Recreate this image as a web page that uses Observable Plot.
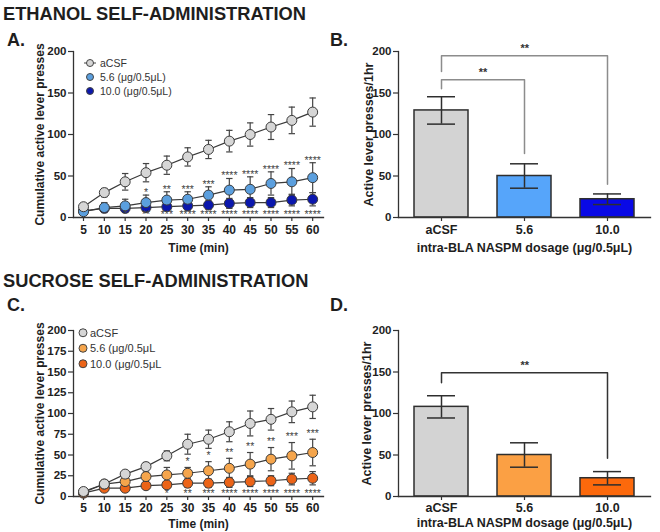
<!DOCTYPE html>
<html>
<head>
<meta charset="utf-8">
<script src="https://cdn.jsdelivr.net/npm/d3@7"></script>
<script src="https://cdn.jsdelivr.net/npm/@observablehq/plot@0.6"></script>
<style>
  body { margin: 0; background: #fff; }
  #fig { position: relative; width: 660px; height: 532px; overflow: hidden;
         font-family: "Liberation Sans", Arial, sans-serif; color: #1e1e1e; }
  .head { position: absolute; left: 3px; font-weight: bold; font-size: 18.3px; line-height: 18px; white-space: nowrap; }
  .tag { position: absolute; font-weight: bold; font-size: 18px; line-height: 18px; }
  .panel { position: absolute; }
  .legend { position: absolute; }
</style>
</head>
<body>
<div id="fig">
  <div class="head" style="top:5px">ETHANOL SELF-ADMINISTRATION</div>
  <div class="head" style="top:272px">SUCROSE SELF-ADMINISTRATION</div>
  <div class="tag" style="left:7px;top:31px">A.</div>
  <div class="tag" style="left:330px;top:31px">B.</div>
  <div class="tag" style="left:7px;top:296px">C.</div>
  <div class="tag" style="left:330px;top:296px">D.</div>
  <div class="panel" id="pA" style="left:0;top:30px"></div>
  <div class="panel" id="pB" style="left:330px;top:30px"></div>
  <div class="panel" id="pC" style="left:0;top:290px"></div>
  <div class="panel" id="pD" style="left:330px;top:290px"></div>
</div>
<script>
// ---- session time points and treatment groups ----
const times = [5, 10, 15, 20, 25, 30, 35, 40, 45, 50, 55, 60];
const doses = ["aCSF", "5.6", "10.0"];
const ethanolLegend = ["aCSF", "5.6 (\u03bcg/0.5\u03bcL)", "10.0 (\u03bcg/0.5\u03bcL)"];
const sucroseLegend = ["aCSF", "5.6 (\u03bcg/0.5\u03bcL", "10.0 (\u03bcg/0.5\u03bcL"];

// ---- ethanol: cumulative active lever presses (mean, SEM) ----
const ethAcsfMean = [13, 30, 43, 54, 63, 73, 82, 92, 100, 109, 117, 127];
const ethAcsfSem  = [2, 5, 10, 11, 11, 11, 11, 13, 14, 15, 16, 17];
const eth56Mean   = [7, 12, 14, 18, 21, 22, 27, 33, 34, 41, 43, 48];
const eth56Sem    = [2, 6, 8, 9, 10, 9, 10, 14, 15, 14, 16, 18];
const eth100Mean  = [8, 11, 11, 12, 13, 14, 15, 17, 18, 18, 21, 22];
const eth100Sem   = [2, 3, 4, 4, 4, 5, 5, 6, 6, 6, 7, 8];
const ethStars56  = ["", "", "", "*", "**", "***", "***", "****", "****", "****", "****", "****"];
const ethStars100 = ["", "", "*", "**", "***", "****", "****", "****", "****", "****", "****", "****"];

// ---- ethanol: total presses in 1 hr ----
const ethTotalMean = [129, 50, 22];
const ethTotalSem  = [16.5, 14.7, 6.4];
const ethBrackets = [
  {from: "aCSF", to: "10.0", top: 195, startY: 176, endY: 40, label: "**"},
  {from: "aCSF", to: "5.6", top: 166, startY: 155, endY: 77, label: "**"}
];

// ---- sucrose: cumulative active lever presses (mean, SEM) ----
const sucAcsfMean = [6, 15, 27, 36, 49, 63, 69, 78, 88, 93, 102, 108];
const sucAcsfSem  = [2, 2, 3, 5, 6, 12, 11, 12, 15, 13, 13, 14];
const suc56Mean   = [5, 15, 18, 24, 26, 28, 31, 34, 39, 45, 49, 53];
const suc56Sem    = [2, 2, 4, 5, 9, 7, 11, 12, 14, 14, 16, 16];
const suc100Mean  = [4, 10, 10, 13, 14, 16, 16, 17, 18, 19, 21, 22];
const suc100Sem   = [2, 2, 3, 3, 4, 5, 5, 6, 6, 6, 7, 8];
const sucStars56  = ["", "", "", "", "", "*", "*", "**", "**", "**", "***", "***"];
const sucStars100 = ["", "", "", "", "*", "**", "***", "****", "****", "****", "****", "****"];

// ---- sucrose: total presses in 1 hr ----
const sucTotalMean = [108, 50, 22];
const sucTotalSem  = [13.4, 14.7, 8];
const sucBrackets = [
  {from: "aCSF", to: "10.0", top: 149, startY: 137, endY: 46, label: "**"}
];

// ---- colours ----
const ethDotColors = ["#d6d6d6", "#5b9fde", "#0b17ad"];
const ethBarColors = ["#d3d3d3", "#56a5fa", "#0909e6"];
const sucDotColors = ["#d6d6d6", "#f5a54c", "#ec6418"];
const sucBarColors = ["#d3d3d3", "#fba044", "#fc690c"];

const INK = "#333";
const FONT = "'Liberation Sans', Arial, sans-serif";

// horizontal cap drawn as a dot symbol, so its width is in pixels
const capSymbol = {
  draw(context, size) {
    const h = Math.sqrt(size / Math.PI);
    context.moveTo(-h, 0);
    context.lineTo(h, 0);
  }
};

function cumulativePanel(cfg) {
  const rows = [];
  cfg.means.forEach((means, s) =>
    means.forEach((m, i) =>
      rows.push({dose: doses[s], s, t: times[i], m, se: cfg.sems[s][i], fill: cfg.colors[s]})));
  // highest dose first so the aCSF symbols end up on top
  rows.sort((a, b) => b.s - a.s);
  const highStars = times.map((t, i) => ({t, text: cfg.stars56[i], y: cfg.means[1][i] + cfg.sems[1][i]}))
    .filter(d => d.text);
  const lowStars = times.map((t, i) => ({t, text: cfg.stars100[i]})).filter(d => d.text);

  return Plot.plot({
    width: 330, height: cfg.height,
    marginLeft: 73, marginRight: 7, marginTop: cfg.marginTop, marginBottom: cfg.marginBottom,
    style: {fontFamily: FONT, fontWeight: "bold", fontSize: "12px", color: "#1e1e1e", background: "transparent"},
    x: {domain: [2.6, 62.6]},
    y: {domain: [0, 200]},
    color: {type: "identity"},
    marks: [
      Plot.frame({anchor: "left", stroke: INK, strokeWidth: 1.3}),
      Plot.frame({anchor: "bottom", stroke: INK, strokeWidth: 1.3}),
      Plot.axisX({ticks: times, tickSize: 4, tickPadding: cfg.xPad, label: null, stroke: INK, strokeWidth: 1.2, fontSize: 12}),
      Plot.axisY({ticks: cfg.yTicks, tickSize: 5, tickPadding: 2, label: null, stroke: INK, strokeWidth: 1.2, fontSize: 11.5}),
      Plot.ruleX(rows, {x: "t", y1: d => d.m - d.se, y2: d => d.m + d.se, stroke: "#444", strokeWidth: 1.2}),
      Plot.dot(rows, {x: "t", y: d => d.m + d.se, symbol: capSymbol, r: 3.2, stroke: "#444", strokeWidth: 1.2, fill: "none"}),
      Plot.dot(rows, {x: "t", y: d => d.m - d.se, symbol: capSymbol, r: 3.2, stroke: "#444", strokeWidth: 1.2, fill: "none"}),
      Plot.line(rows, {x: "t", y: "m", z: "dose", stroke: "#3a3a3a", strokeWidth: 1.2}),
      Plot.dot(rows, {x: "t", y: "m", r: 5, fill: "fill", stroke: "#3c3c3c", strokeWidth: 1}),
      Plot.text(highStars, {x: "t", y: "y", text: "text", dy: cfg.starDy, fontSize: 10.5, fontWeight: "normal", fill: "#444"}),
      Plot.text(lowStars, {x: "t", y: () => 0, text: "text", dy: -2.5, fontSize: 10.5, fontWeight: "normal", fill: "#444"}),
      Plot.text(["Cumulative active lever presses"], {text: d => d, frameAnchor: "left", textAnchor: "middle", lineAnchor: "middle", rotate: -90, dx: -33, fontSize: 12}),
      Plot.text(["Time (min)"], {text: d => d, frameAnchor: "bottom", textAnchor: "middle", lineAnchor: "middle", dy: cfg.titleDy, fontSize: 12})
    ]
  });
}

function totalPanel(cfg) {
  const rows = doses.map((dose, i) => ({dose, m: cfg.mean[i], se: cfg.sem[i], fill: cfg.colors[i]}));
  const paddingInner = 0.35, paddingOuter = 0.19, marginLeft = 68, marginRight = 10, width = 330;
  const step = (width - marginLeft - marginRight) / (doses.length - paddingInner + 2 * paddingOuter);
  const bracketPaths = cfg.brackets.flatMap((b, k) => [
    {k, dose: b.from, y: b.startY}, {k, dose: b.from, y: b.top},
    {k, dose: b.to, y: b.top}, {k, dose: b.to, y: b.endY}
  ]);
  const bracketLabels = cfg.brackets.map(b => ({
    dose: b.from, y: b.top, label: b.label,
    shift: (doses.indexOf(b.to) - doses.indexOf(b.from)) * step / 2
  }));

  return Plot.plot({
    width, height: cfg.height,
    marginLeft, marginRight, marginTop: cfg.marginTop, marginBottom: cfg.marginBottom,
    style: {fontFamily: FONT, fontWeight: "bold", fontSize: "12.5px", color: "#1e1e1e", background: "transparent"},
    x: {domain: doses, paddingInner, paddingOuter, align: 0.5},
    y: {domain: [0, 200]},
    color: {type: "identity"},
    marks: [
      Plot.barY(rows, {x: "dose", y: "m", fill: "fill", stroke: "#2e2e2e", strokeWidth: 1.5}),
      Plot.ruleX(rows, {x: "dose", y1: d => d.m - d.se, y2: d => d.m + d.se, stroke: "#2e2e2e", strokeWidth: 1.5}),
      Plot.tickY(rows, {x: "dose", y: d => d.m + d.se, insetLeft: 13, insetRight: 13, stroke: "#2e2e2e", strokeWidth: 1.5}),
      Plot.tickY(rows, {x: "dose", y: d => d.m - d.se, insetLeft: 13, insetRight: 13, stroke: "#2e2e2e", strokeWidth: 1.5}),
      ...cfg.brackets.map((b, k) =>
        Plot.line(bracketPaths.filter(p => p.k === k), {x: "dose", y: "y", stroke: cfg.bracketColor, strokeWidth: 1.5})),
      ...bracketLabels.map(b =>
        Plot.text([b], {x: "dose", y: "y", text: "label", dx: b.shift, dy: -7, fontSize: 11, fill: INK})),
      Plot.frame({anchor: "left", stroke: INK, strokeWidth: 1.3}),
      Plot.frame({anchor: "bottom", stroke: INK, strokeWidth: 1.3}),
      Plot.axisX({tickSize: 4, tickPadding: cfg.xPad, label: null, stroke: INK, strokeWidth: 1.2, fontSize: 12.5}),
      Plot.axisY({ticks: [0, 50, 100, 150, 200], tickSize: 5, tickPadding: 2, label: null, stroke: INK, strokeWidth: 1.2, fontSize: 11.5}),
      Plot.text(["Active lever presses/1hr"], {text: d => d, frameAnchor: "left", textAnchor: "middle", lineAnchor: "middle", rotate: -90, dx: cfg.yTitleDx, fontSize: 12.5}),
      Plot.text(["intra-BLA NASPM dosage (\u03bcg/0.5\u03bcL)"], {text: d => d, frameAnchor: "bottom", textAnchor: "middle", lineAnchor: "middle", dy: cfg.titleDy, fontSize: 12.5})
    ]
  });
}

function legendBox(labels, colors, opt) {
  const ns = "http://www.w3.org/2000/svg";
  const svg = document.createElementNS(ns, "svg");
  svg.setAttribute("width", 120);
  svg.setAttribute("height", opt.gap * labels.length + 4);
  svg.setAttribute("class", "legend");
  svg.style.left = opt.left + "px";
  svg.style.top = opt.top + "px";
  svg.style.position = "absolute";
  labels.forEach((label, i) => {
    const cy = opt.gap / 2 + i * opt.gap;
    if (i === 0 && opt.lineThrough) {
      const l = document.createElementNS(ns, "line");
      l.setAttribute("x1", opt.cx - 6); l.setAttribute("x2", opt.cx + 6);
      l.setAttribute("y1", cy); l.setAttribute("y2", cy);
      l.setAttribute("stroke", "#444"); l.setAttribute("stroke-width", 1);
      svg.appendChild(l);
    }
    const c = document.createElementNS(ns, "circle");
    c.setAttribute("cx", opt.cx); c.setAttribute("cy", cy); c.setAttribute("r", opt.r);
    c.setAttribute("fill", colors[i]); c.setAttribute("stroke", "#444"); c.setAttribute("stroke-width", 1);
    svg.appendChild(c);
    const t = document.createElementNS(ns, "text");
    t.setAttribute("x", opt.tx); t.setAttribute("y", cy); t.setAttribute("dy", "0.35em");
    t.setAttribute("font-family", "Liberation Sans, Arial, sans-serif");
    t.setAttribute("font-size", opt.fontSize); t.setAttribute("fill", "#333");
    t.textContent = label;
    svg.appendChild(t);
  });
  return svg;
}

document.getElementById("pA").appendChild(cumulativePanel({
  means: [ethAcsfMean, eth56Mean, eth100Mean], sems: [ethAcsfSem, eth56Sem, eth100Sem],
  colors: ethDotColors, stars56: ethStars56, stars100: ethStars100,
  yTicks: [0, 50, 100, 150, 200], height: 240, marginTop: 21, marginBottom: 53,
  xPad: 4, starDy: -2.5, titleDy: 31
}));
document.getElementById("pB").appendChild(totalPanel({
  mean: ethTotalMean, sem: ethTotalSem, colors: ethBarColors, brackets: ethBrackets,
  bracketColor: "#8c8c8c", height: 240, marginTop: 21, marginBottom: 53,
  xPad: 4, titleDy: 30, yTitleDx: -30
}));
document.getElementById("pC").appendChild(cumulativePanel({
  means: [sucAcsfMean, suc56Mean, suc100Mean], sems: [sucAcsfSem, suc56Sem, suc100Sem],
  colors: sucDotColors, stars56: sucStars56, stars100: sucStars100,
  yTicks: [0, 25, 50, 75, 100, 125, 150, 175, 200], height: 242, marginTop: 40, marginBottom: 36,
  xPad: 3, starDy: -6, titleDy: 27.5
}));
document.getElementById("pD").appendChild(totalPanel({
  mean: sucTotalMean, sem: sucTotalSem, colors: sucBarColors, brackets: sucBrackets,
  bracketColor: "#333", height: 242, marginTop: 40, marginBottom: 36,
  xPad: 3, titleDy: 26.5, yTitleDx: -32
}));

const fig = document.getElementById("fig");
fig.appendChild(legendBox(ethanolLegend, ethDotColors,
  {left: 80, top: 56, gap: 14, cx: 10, r: 3.5, tx: 20, fontSize: 10.5, lineThrough: true}));
fig.appendChild(legendBox(sucroseLegend, sucDotColors,
  {left: 75, top: 325, gap: 15.5, cx: 8, r: 4, tx: 15, fontSize: 11, lineThrough: false}));
</script>
</body>
</html>
